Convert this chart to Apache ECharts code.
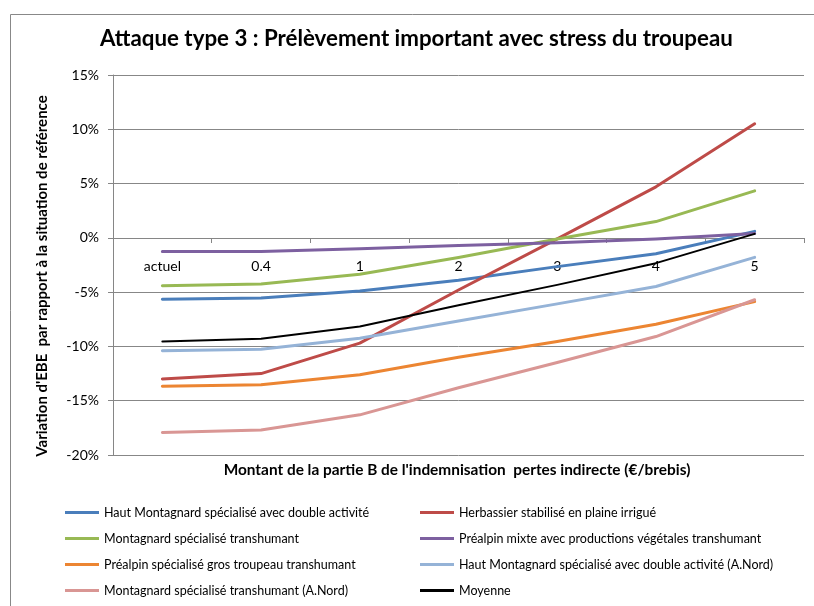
<!DOCTYPE html>
<html>
<head>
<meta charset="utf-8">
<script src="https://cdn.jsdelivr.net/npm/echarts@6/dist/echarts.min.js"></script>
<style>html,body{margin:0;padding:0;background:#fff}#c{width:814px;height:606px}</style>
</head>
<body>
<div id="c"></div>
<script>
var categories = ['actuel', '0.4', '1', '2', '3', '4', '5'];
var yTicks = { min: -20, max: 15, interval: 5 };

var hautMontagnard = [-5.65, -5.55, -4.9, -3.9, -2.65, -1.47, 0.6];
var herbassier = [-13.0, -12.5, -9.7, -4.8, -0.1, 4.7, 10.5];
var montagnard = [-4.4, -4.25, -3.35, -1.8, -0.1, 1.5, 4.33];
var prealpinMixte = [-1.25, -1.25, -1.0, -0.7, -0.45, -0.1, 0.4];
var prealpinGros = [-13.66, -13.54, -12.6, -11.0, -9.55, -7.95, -5.87];
var hautMontagnardNord = [-10.4, -10.25, -9.24, -7.65, -6.08, -4.48, -1.8];
var montagnardNord = [-17.93, -17.7, -16.3, -13.8, -11.48, -9.09, -5.7];
var moyenne = [-9.55, -9.3, -8.17, -6.2, -4.33, -2.33, 0.37];

var names = [
  'Haut Montagnard spécialisé avec double activité',
  'Herbassier stabilisé en plaine irrigué',
  'Montagnard spécialisé transhumant',
  'Préalpin mixte avec productions végétales transhumant',
  'Préalpin spécialisé gros troupeau transhumant',
  'Haut Montagnard spécialisé avec double activité (A.Nord)',
  'Montagnard spécialisé transhumant (A.Nord)',
  'Moyenne'
];
var values = [hautMontagnard, herbassier, montagnard, prealpinMixte, prealpinGros, hautMontagnardNord, montagnardNord, moyenne];
var colors = ['#4A7EBB', '#BE4B48', '#98B954', '#7D60A0', '#EC8532', '#95B3D7', '#D99694', '#000000'];

var FONT = 'Lato, "Liberation Sans", sans-serif';

var series = names.map(function (n, i) {
  return {
    name: n,
    type: 'line',
    data: values[i],
    symbol: 'none',
    z: 2 + i,
    lineStyle: { color: colors[i], width: i === 7 ? 2 : 3, join: 'round', cap: 'round' },
    itemStyle: { color: colors[i] }
  };
});

var chart = echarts.init(document.getElementById('c'), null, { renderer: 'canvas' });
var legendCommon = {
  orient: 'vertical',
  top: 506,
  padding: 0,
  itemWidth: 34,
  itemHeight: 14,
  itemGap: 13,
  icon: 'path://M0,0 L34,0 L34,3 L0,3 Z',
  textStyle: { fontFamily: FONT, fontSize: 12.5, color: '#000' },
  selectedMode: false
};
chart.setOption({
  animation: false,
  backgroundColor: '#fff',
  textStyle: { fontFamily: FONT },
  title: {
    text: 'Attaque type 3 : Prélèvement important avec stress du troupeau',
    left: 100,
    top: 28,
    padding: 0,
    textStyle: { fontFamily: FONT, fontSize: 22.3, fontWeight: 'bold', color: '#000' }
  },
  grid: { left: 113, right: 10, top: 75, bottom: 151, containLabel: false },
  legend: [
    Object.assign({}, legendCommon, { left: 65, data: [names[0], names[2], names[4], names[6]] }),
    Object.assign({}, legendCommon, { left: 420, data: [names[1], names[3], names[5], names[7]] })
  ],
  xAxis: {
    type: 'category',
    data: categories,
    boundaryGap: true,
    position: 'bottom',
    offset: -217,
    axisLine: { onZero: false, lineStyle: { color: '#868686', width: 1 } },
    axisTick: { show: true, alignWithLabel: false, length: 5, lineStyle: { color: '#868686' } },
    axisLabel: { margin: 21, fontFamily: FONT, fontSize: 14, color: '#000' },
    splitLine: { show: false }
  },
  yAxis: {
    type: 'value',
    min: yTicks.min,
    max: yTicks.max,
    interval: yTicks.interval,
    axisLine: { show: true, lineStyle: { color: '#868686', width: 1 } },
    axisTick: { show: true, length: 5, lineStyle: { color: '#868686' } },
    axisLabel: { formatter: '{value}%', margin: 14, fontFamily: FONT, fontSize: 14, color: '#000' },
    splitLine: { show: true, lineStyle: { color: '#878787', width: 1 } }
  },
  graphic: [
    {
      type: 'rect', silent: true, z: -10,
      shape: { x: 10.5, y: 14.5, width: 900, height: 700 },
      style: { fill: 'none', stroke: '#888888', lineWidth: 1 }
    },
    {
      type: 'text', silent: true,
      x: 42, y: 276, rotation: Math.PI / 2,
      style: {
        text: "Variation d'EBE  par rapport à la situation de référence",
        fontFamily: FONT, fontSize: 15, fontWeight: 'bold', fill: '#000',
        align: 'center', verticalAlign: 'middle'
      }
    },
    {
      type: 'text', silent: true,
      x: 457, y: 470,
      style: {
        text: "Montant de la partie B de l'indemnisation  pertes indirecte (€/brebis)",
        fontFamily: FONT, fontSize: 15.4, fontWeight: 'bold', fill: '#000',
        align: 'center', verticalAlign: 'middle'
      }
    }
  ],
  series: series
});
</script>
</body>
</html>
